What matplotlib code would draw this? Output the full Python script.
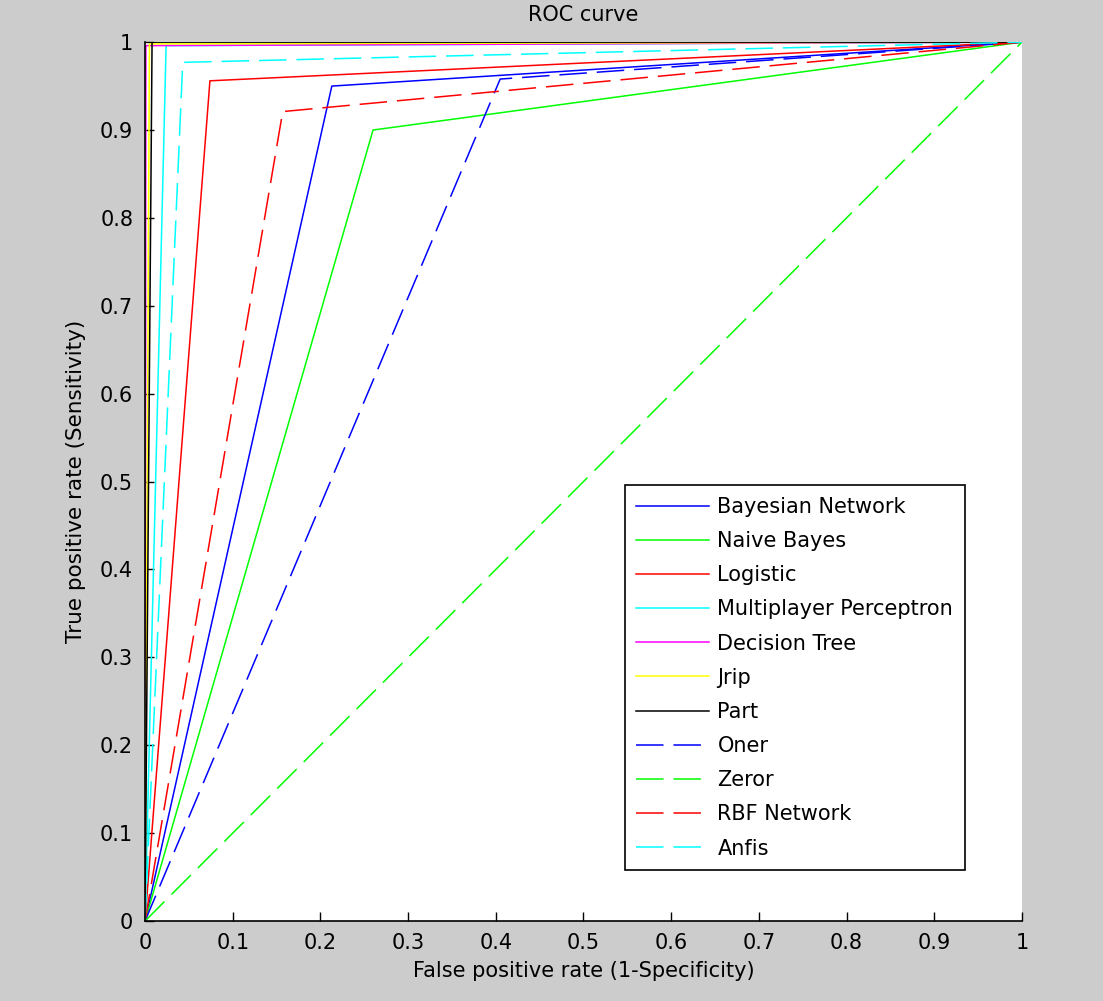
import matplotlib
matplotlib.use("Agg")
import matplotlib.pyplot as plt
import numpy as np

plt.rcParams['font.family'] = ['DejaVu Sans']

# classifier names and single operating points (fpr, tpr)
names = ["Bayesian Network", "Naive Bayes", "Logistic", "Multiplayer Perceptron",
         "Decision Tree", "Jrip", "Part", "Oner", "Zeror", "RBF Network", "Anfis"]
fpr_points = [0.213, 0.260, 0.074, 0.024, 0.001, 0.005, 0.008, 0.405, 0.0, 0.157, 0.043]
tpr_points = [0.950, 0.900, 0.956, 0.996, 0.996, 0.998, 1.000, 0.958, 0.0, 0.921, 0.977]

colors = ["#0000ff", "#00ff00", "#ff0000", "#00ffff", "#ff00ff", "#ffff00", "#000000",
          "#0000ff", "#00ff00", "#ff0000", "#00ffff"]
dashed = [False] * 7 + [True] * 4

ticks = np.round(np.arange(0, 1.01, 0.1), 1)
tick_labels = ["0", "0.1", "0.2", "0.3", "0.4", "0.5", "0.6", "0.7", "0.8", "0.9", "1"]

fig = plt.figure(figsize=(11.03, 10.01), dpi=100, facecolor="#cccccc")
ax = fig.add_axes([0.1315, 0.0799, 0.795, 0.878])
ax.set_facecolor("white")

for name, fx, ty, c, d in zip(names, fpr_points, tpr_points, colors, dashed):
    xs = [0, fx, 1]
    ys = [0, ty, 1]
    if d:
        ax.plot(xs, ys, color=c, lw=1.1, dashes=(18, 6.5), label=name)
    else:
        ax.plot(xs, ys, color=c, lw=1.1, label=name)

ax.set_xlim(0, 1)
ax.set_ylim(0, 1)
ax.set_xticks(ticks)
ax.set_yticks(ticks)
ax.set_xticklabels(tick_labels)
ax.set_yticklabels(tick_labels)
ax.spines["top"].set_visible(False)
ax.spines["right"].set_visible(False)
ax.tick_params(direction="in", length=6.5, width=1, labelsize=15, pad=8.5,
               top=False, right=False)
for sp in ("left", "bottom"):
    ax.spines[sp].set_linewidth(1.2)

ax.set_title("ROC curve", fontsize=15, pad=15)
ax.set_xlabel("False positive rate (1-Specificity)", fontsize=15, labelpad=6)
ax.set_ylabel("True positive rate (Sensitivity)", fontsize=15.5, labelpad=10)

leg = ax.legend(loc="lower left", bbox_to_anchor=(0.547, 0.058), borderaxespad=0,
                fontsize=15, fancybox=False, framealpha=1, edgecolor="black",
                handlelength=3.5, labelspacing=0.68, borderpad=0.55, handletextpad=0.4)
leg.get_frame().set_linewidth(1.2)

fig.savefig("out.png", dpi=100, facecolor=fig.get_facecolor())
